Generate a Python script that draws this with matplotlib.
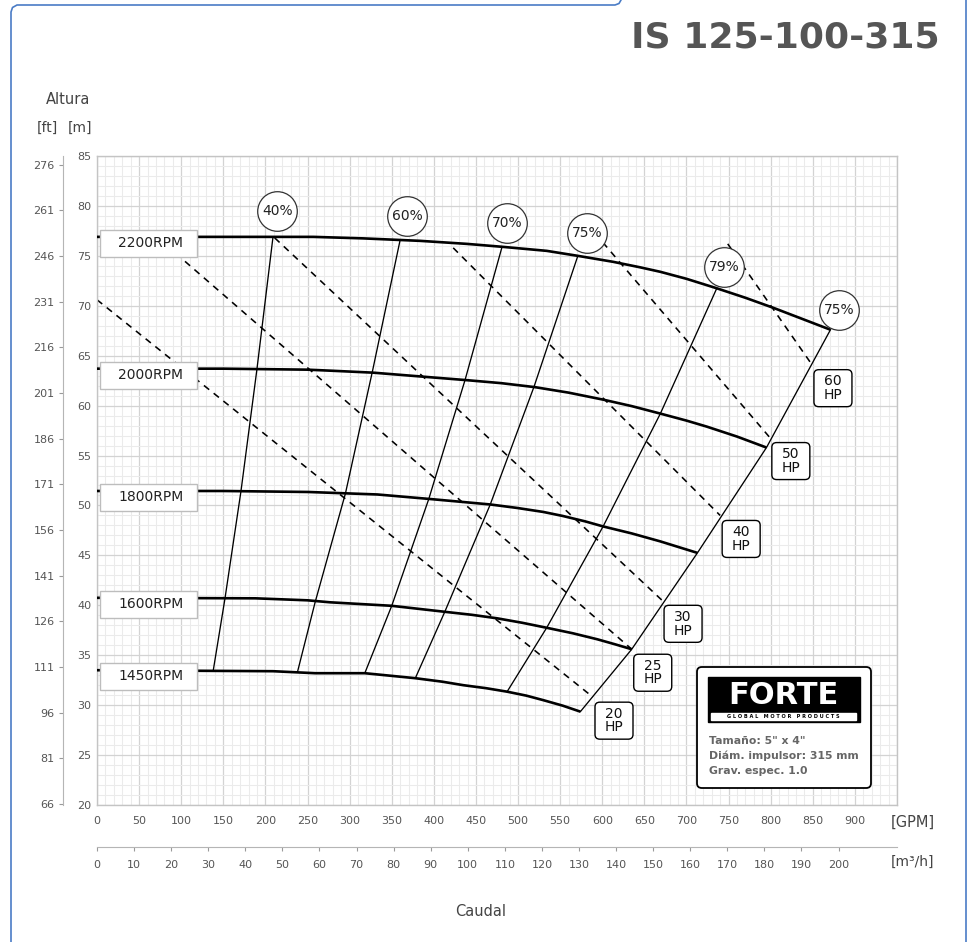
import matplotlib
matplotlib.use('Agg')
import matplotlib.pyplot as plt
from matplotlib.patches import FancyBboxPatch, Rectangle
from matplotlib.lines import Line2D
from matplotlib.ticker import MultipleLocator, FixedLocator

plt.rcParams['font.family'] = ['DejaVu Sans']

W, H = 969, 942

# ---------------- data ----------------
title = 'IS 125-100-315'
rpm_labels = ['2200RPM', '2000RPM', '1800RPM', '1600RPM', '1450RPM']

q_2200 = [0, 100, 200, 257, 316, 384, 439, 482, 534, 571, 613, 645, 669, 700, 736, 770, 803, 871]
h_2200 = [76.9, 76.9, 76.9, 76.9, 76.75, 76.5, 76.2, 75.9, 75.5, 75.0, 74.4, 73.85, 73.4, 72.7, 71.75, 70.8, 69.8, 67.6]

q_2000 = [0, 150, 250, 277, 328, 387, 439, 480, 520, 560, 601, 635, 669, 700, 724, 760, 795]
h_2000 = [63.7, 63.7, 63.6, 63.5, 63.3, 62.9, 62.55, 62.25, 61.85, 61.3, 60.6, 59.95, 59.2, 58.5, 57.9, 56.9, 55.8]

q_1800 = [0, 150, 251, 333, 395, 467, 499, 530, 553, 580, 601, 635, 669, 690, 713]
h_1800 = [51.45, 51.45, 51.35, 51.1, 50.65, 50.1, 49.75, 49.35, 48.95, 48.4, 47.9, 47.2, 46.4, 45.85, 45.25]

q_1600 = [0, 188, 250, 277, 350, 413, 445, 475, 505, 534, 565, 594, 615, 635]
h_1600 = [40.75, 40.7, 40.5, 40.3, 39.95, 39.35, 39.05, 38.7, 38.25, 37.75, 37.2, 36.6, 36.1, 35.6]

q_1450 = [0, 209, 259, 318, 378, 410, 435, 462, 487, 510, 530, 553, 574]
h_1450 = [33.5, 33.4, 33.2, 33.2, 32.7, 32.35, 32.0, 31.7, 31.35, 30.95, 30.5, 29.95, 29.35]

head_q = [q_2200, q_2000, q_1800, q_1600, q_1450]
head_h = [h_2200, h_2000, h_1800, h_1600, h_1450]

# iso-efficiency lines (points from 1450 rpm up to 2200 rpm)
eff_labels = ['40%', '60%', '70%', '75%', '79%', '75%']
eff_q = [[138, 152, 171, 190, 209],
         [238, 259, 295, 327, 360],
         [318, 350, 394, 437, 481],
         [378, 413, 467, 519, 571],
         [487, 534, 601, 669, 736],
         [574, 635, 713, 795, 871]]
eff_h = [[33.45, 40.7, 51.45, 63.7, 76.9],
         [33.3, 40.3, 51.2, 63.4, 76.6],
         [33.2, 39.95, 50.65, 62.55, 75.9],
         [32.7, 39.35, 50.1, 61.9, 75.0],
         [31.35, 37.75, 47.9, 59.2, 71.75],
         [29.35, 35.6, 45.25, 55.8, 67.6]]
eff_label_q = [214, 368, 487, 582, 745, 881]
eff_label_h = [79.5, 79.0, 78.3, 77.3, 73.9, 69.6]

# constant power lines
hp_labels = ['20\nHP', '25\nHP', '30\nHP', '40\nHP', '50\nHP', '60\nHP']
hp_q_start = [0, 71, 211, 423, 591, 749]
hp_h_start = [70.6, 76.9, 76.8, 75.8, 77.3, 76.2]
hp_q_end = [589, 635, 671, 740, 799, 849]
hp_h_end = [30.8, 35.6, 40.5, 49.0, 56.8, 64.1]

gpm_ticks = list(range(0, 901, 50))
m3h_ticks = list(range(0, 201, 10))
ft_ticks = list(range(66, 277, 15))
m_ticks = list(range(20, 86, 5))

info_lines = ['Tamaño: 5" x 4"', 'Diám. impulsor: 315 mm', 'Grav. espec. 1.0']

GPM_PER_M3H = 4.40287
FT_PER_M = 3.28084

# ---------------- figure ----------------
fig = plt.figure(figsize=(W / 100, H / 100), dpi=100)
fig.patch.set_facecolor('white')


def fx(x):
    return x / W


def fy(y):
    return 1 - y / H


TICK_C = '#555555'

ax = fig.add_axes([fx(97), fy(805), 800 / W, 649 / H])
ax.set_xlim(0, 950)
ax.set_ylim(20, 85)
ax.xaxis.set_minor_locator(MultipleLocator(10))
ax.yaxis.set_minor_locator(MultipleLocator(1))
ax.set_xticks(gpm_ticks + [950])
ax.set_xticklabels([str(t) for t in gpm_ticks] + [''])
ax.set_yticks(m_ticks)
ax.set_yticklabels([str(t) for t in m_ticks])
ax.tick_params(axis='both', which='both', length=0, labelsize=8, labelcolor=TICK_C)
ax.tick_params(axis='x', pad=8)
ax.tick_params(axis='y', pad=4)
ax.grid(which='minor', color='#ebebeb', lw=0.75, zorder=0)
ax.grid(which='major', color='#d3d3d3', lw=0.9, zorder=0)
ax.set_axisbelow(True)
for s in ax.spines.values():
    s.set_color('#c4c4c4')
    s.set_linewidth(1.0)

# power lines (dashed)
for qs, hs, qe, he in zip(hp_q_start, hp_h_start, hp_q_end, hp_h_end):
    ax.plot([qs, qe], [hs, he], color='black', lw=1.15, ls=(0, (4.2, 3.6)), zorder=2)

# efficiency lines
for qs, hs in zip(eff_q, eff_h):
    ax.plot(qs, hs, color='black', lw=0.95, zorder=3)

# head curves
for qs, hs in zip(head_q, head_h):
    ax.plot(qs, hs, color='black', lw=1.9, solid_capstyle='butt',
            solid_joinstyle='round', zorder=4)

# efficiency circles
ax.plot(eff_label_q, eff_label_h, 'o', ms=28.5, mfc='white', mec='#333333',
        mew=0.9, ls='none', zorder=6)
for q, h, lab in zip(eff_label_q, eff_label_h, eff_labels):
    ax.text(q, h, lab, ha='center', va='center', fontsize=10, color='#222222', zorder=7)

# RPM boxes
for lab, hs in zip(rpm_labels, head_h):
    h0 = hs[0]
    ax.add_patch(Rectangle((3.6, h0 - 2.0), 115.2, 2.7, facecolor='white',
                           edgecolor='#bdbdbd', lw=1.0, zorder=8))
    ax.text(64, h0 - 0.62, lab, ha='center', va='center', fontsize=10,
            color='#222222', zorder=9)

fig.canvas.draw()
# HP label boxes (placed in pixel units next to line ends)
for lab, qe, he in zip(hp_labels, hp_q_end, hp_h_end):
    xd, yd = ax.transData.transform((qe, he))
    x0 = xd + 2
    y1 = yd - 5
    bw, bh = 38, 37
    p = FancyBboxPatch((x0 / W, (y1 - bh) / H), bw / W, bh / H,
                       boxstyle='round,pad=0,rounding_size=0.005',
                       transform=fig.transFigure, facecolor='white',
                       edgecolor='black', lw=1.0, zorder=10)
    fig.add_artist(p)
    fig.text((x0 + bw / 2) / W, (y1 - bh / 2) / H, lab, ha='center', va='center',
             fontsize=10, linespacing=0.95, color='#111111', zorder=11)

# ft axis
axf = fig.add_axes([fx(63), fy(805), 0.0001, 649 / H])
axf.set_ylim(20 * FT_PER_M, 85 * FT_PER_M)
axf.set_yticks(ft_ticks)
axf.set_yticklabels([str(t) for t in ft_ticks])
axf.set_xticks([])
axf.patch.set_alpha(0)
for k, s in axf.spines.items():
    s.set_visible(k == 'left')
axf.spines['left'].set_color('#b5b5b5')
axf.tick_params(axis='y', length=3, color='#9a9a9a', labelsize=8, labelcolor=TICK_C, pad=3)

# m3/h axis
axm = fig.add_axes([fx(97), fy(847), 800 / W, 0.0001])
axm.set_xlim(0, 950 / GPM_PER_M3H)
axm.set_xticks(m3h_ticks)
axm.set_xticklabels([str(t) for t in m3h_ticks])
axm.set_yticks([])
axm.patch.set_alpha(0)
for k, s in axm.spines.items():
    s.set_visible(k == 'bottom')
axm.spines['bottom'].set_color('#b5b5b5')
axm.tick_params(axis='x', length=3, color='#9a9a9a', labelsize=8, labelcolor=TICK_C, pad=6)

# texts
fig.text(fx(940), fy(38), title, ha='right', va='center', fontsize=26,
         fontweight='bold', color='#555555')
fig.text(fx(68), fy(100), 'Altura', ha='center', va='center', fontsize=10.5, color='#444444')
fig.text(fx(47), fy(128), '[ft]', ha='center', va='center', fontsize=10, color='#444444')
fig.text(fx(80), fy(128), '[m]', ha='center', va='center', fontsize=10, color='#444444')
fig.text(fx(913), fy(822), '[GPM]', ha='center', va='center', fontsize=10.5, color='#444444')
fig.text(fx(912), fy(862), '[m³/h]', ha='center', va='center', fontsize=10, color='#444444')
fig.text(fx(481), fy(912), 'Caudal', ha='center', va='center', fontsize=10.5, color='#444444')

# FORTE box
fig.add_artist(FancyBboxPatch((fx(697), fy(788)), 174 / W, 121 / H,
                              boxstyle='round,pad=0,rounding_size=0.005',
                              transform=fig.transFigure, facecolor='white',
                              edgecolor='black', lw=1.3, zorder=10))
fig.add_artist(Rectangle((fx(708), fy(722)), 152 / W, 45 / H, transform=fig.transFigure,
                         facecolor='black', edgecolor='black', zorder=11))
fig.text(fx(783), fy(695), 'FORTE', ha='center', va='center', fontsize=22,
         fontweight='bold', color='white', zorder=12)
fig.add_artist(Rectangle((fx(711), fy(720)), 145 / W, 7 / H, transform=fig.transFigure,
                         facecolor='white', edgecolor='white', zorder=12))
fig.text(fx(783), fy(716.5), 'G L O B A L   M O T O R   P R O D U C T S', ha='center',
         va='center', fontsize=3.6, fontweight='bold', color='black', zorder=13)
for i, line in enumerate(info_lines):
    fig.text(fx(709), fy(741 + 15 * i), line, ha='left', va='center', fontsize=7.8,
             fontweight='bold', color='#666666', zorder=12)

# blue frame
blue = '#4a7cc6'
fig.add_artist(Line2D([fx(11), fx(11), fx(12.5), fx(17), fx(615), fx(619), fx(621)],
                      [fy(942), fy(12), fy(7.5), fy(5), fy(5), fy(3.5), fy(0)],
                      color=blue, lw=1.2, transform=fig.transFigure))
fig.add_artist(Line2D([fx(966), fx(966)], [fy(0), fy(942)], color=blue, lw=1.2,
                      transform=fig.transFigure))

fig.savefig('out.png', dpi=100, facecolor='white')
